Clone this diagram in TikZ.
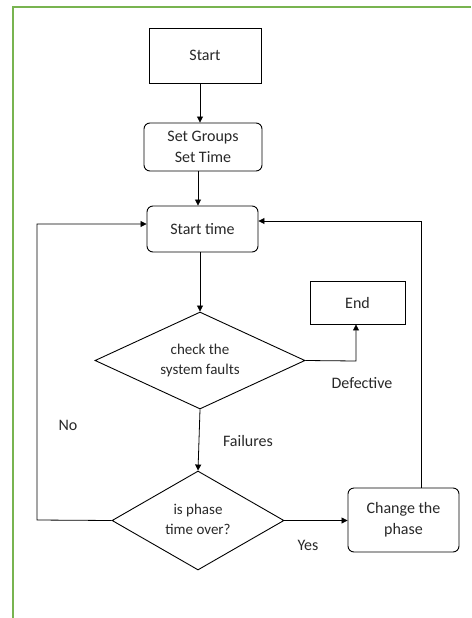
\documentclass[tikz,border=0pt]{standalone}
\usepackage{fontspec}
\setmainfont{Carlito}
\usetikzlibrary{shapes.geometric,arrows.meta}
\definecolor{framegreen}{RGB}{120,180,80}
\definecolor{txt}{RGB}{40,40,40}
\begin{document}
\begin{tikzpicture}[x=1pt,y=-1pt,
  every node/.style={font=\fontsize{16}{21}\selectfont, align=center, text=txt},
  box/.style={draw, line width=0.9pt, minimum width=#1, inner sep=0pt},
  rbox/.style={draw, line width=0.9pt, rounded corners=6pt, inner sep=0pt},
  dia/.style={draw, line width=0.9pt, diamond, aspect=2.1, inner sep=0pt, font=\fontsize{15}{20}\selectfont},
  conn/.style={line width=0.8pt, -{Triangle[length=6pt,width=6pt]}},
  lbl/.style={font=\fontsize{16}{21}\selectfont}]
\useasboundingbox (0,0) rectangle (471,618);
\draw[framegreen, line width=1.5pt] (13,618) -- (13,7) -- (471,7);

\node[box=112pt, minimum height=55pt] (start) at (205,55.5) {Start};
\node[rbox, minimum width=118pt, minimum height=48pt] (set) at (203,147) {Set Groups\\Set Time};
\node[rbox, minimum width=111pt, minimum height=46pt] (st) at (202.5,229) {Start time};
\node[dia, minimum width=210pt, minimum height=97pt] (d1) at (200,360.5) {\raisebox{9pt}{\begin{tabular}{@{}c@{}}check the\\system faults\end{tabular}}};
\node[box=95pt, minimum height=43pt] (end) at (357.5,302.5) {End};
\node[dia, minimum width=172pt, minimum height=99pt] (d2) at (198,520.5) {\raisebox{6pt}{\begin{tabular}{@{}c@{}}is phase\\time over?\end{tabular}}};
\node[rbox, minimum width=111pt, minimum height=64pt] (chg) at (403.5,520) {Change the\\phase};

\coordinate (lb) at (37,520);
\coordinate (lt) at (37,224);
\coordinate (rt) at (421,221);
\coordinate (dr) at (356,361);

\draw[conn] (start.south -| 200,0) -- (set.north -| 200,0);
\draw[conn] (set.south -| 198,0) -- (st.north -| 198,0);
\draw[conn] (st.south -| 200,0) -- (d1.north);
\draw[conn] (d1.south) -- (d2.north);
\draw[conn] (d1.east) -- (dr) -- (end.south -| dr);
\draw[conn] (d2.east) -- (chg.west |- d2.east);
\draw[conn] (d2.west) -- (lb) -- (lt) -- (st.west |- lt);
\draw[conn] (chg.north -| rt) -- (rt) -- (st.east |- rt);

\node[lbl] (ldef) at (362,383) {Defective};
\node[lbl] (lno) at (68,425) {No};
\node[lbl] (lfail) at (248,441) {Failures};
\node[lbl] (lyes) at (308,545) {Yes};
\end{tikzpicture}
\end{document}
